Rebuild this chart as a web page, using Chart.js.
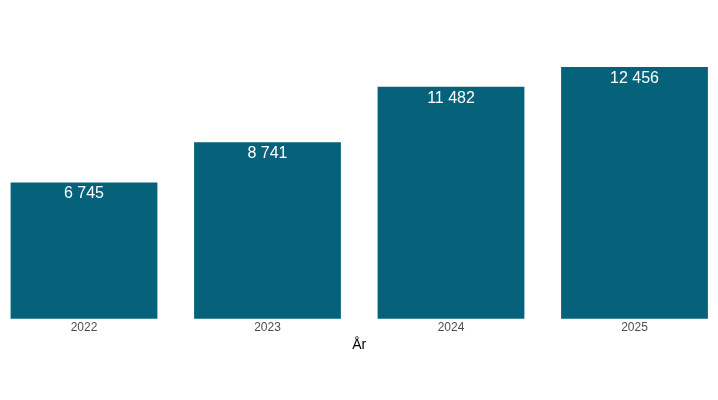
<!DOCTYPE html>
<html>
<head>
<meta charset="utf-8">
<script src="https://cdn.jsdelivr.net/npm/chart.js@4"></script>
<style>
  html, body { margin: 0; padding: 0; background: #fff; }
  #wrap { width: 718px; height: 400px; }
</style>
</head>
<body>
<div id="wrap"><canvas id="myChart" width="718" height="400"></canvas></div>
<script>
var years = ["2022", "2023", "2024", "2025"];
var values = [6745, 8741, 11482, 12456];
var yMax = 13079;

function fmt(v) {
  return String(v).replace(/\B(?=(\d{3})+(?!\d))/g, " ");
}

// value labels inside the top of each bar
var barLabels = {
  id: 'barLabels',
  afterDatasetsDraw: function(chart) {
    var ctx = chart.ctx;
    var meta = chart.getDatasetMeta(0);
    ctx.save();
    ctx.fillStyle = '#ffffff';
    ctx.font = '16px "Liberation Sans", Arial, sans-serif';
    ctx.textAlign = 'center';
    ctx.textBaseline = 'middle';
    meta.data.forEach(function(bar, i) {
      ctx.fillText(fmt(values[i]), bar.x, bar.y + 11.5);
    });
    ctx.restore();
  }
};

var ctx = document.getElementById('myChart').getContext('2d');
var chart = new Chart(ctx, {
  type: 'bar',
  data: {
    labels: years,
    datasets: [{
      data: values,
      backgroundColor: '#05627A',
      borderWidth: 0,
      categoryPercentage: 0.8,
      barPercentage: 1,
      clip: false
    }]
  },
  options: {
    responsive: false,
    animation: false,
    layout: { padding: { left: 84, right: 83.5, top: 54.5, bottom: 46 } },
    plugins: { legend: { display: false }, tooltip: { enabled: false } },
    scales: {
      x: {
        offset: false,
        grid: { display: false, drawTicks: false },
        border: { display: false },
        ticks: {
          color: '#4d4d4d',
          padding: 2,
          font: { family: '"Liberation Sans", Arial, sans-serif', size: 12 }
        },
        title: {
          display: true,
          text: 'År',
          color: '#000000',
          padding: { top: 0, bottom: 0 },
          font: { family: '"Liberation Sans", Arial, sans-serif', size: 14 }
        }
      },
      y: {
        display: false,
        min: 0,
        max: yMax
      }
    }
  },
  plugins: [barLabels]
});
</script>
</body>
</html>
